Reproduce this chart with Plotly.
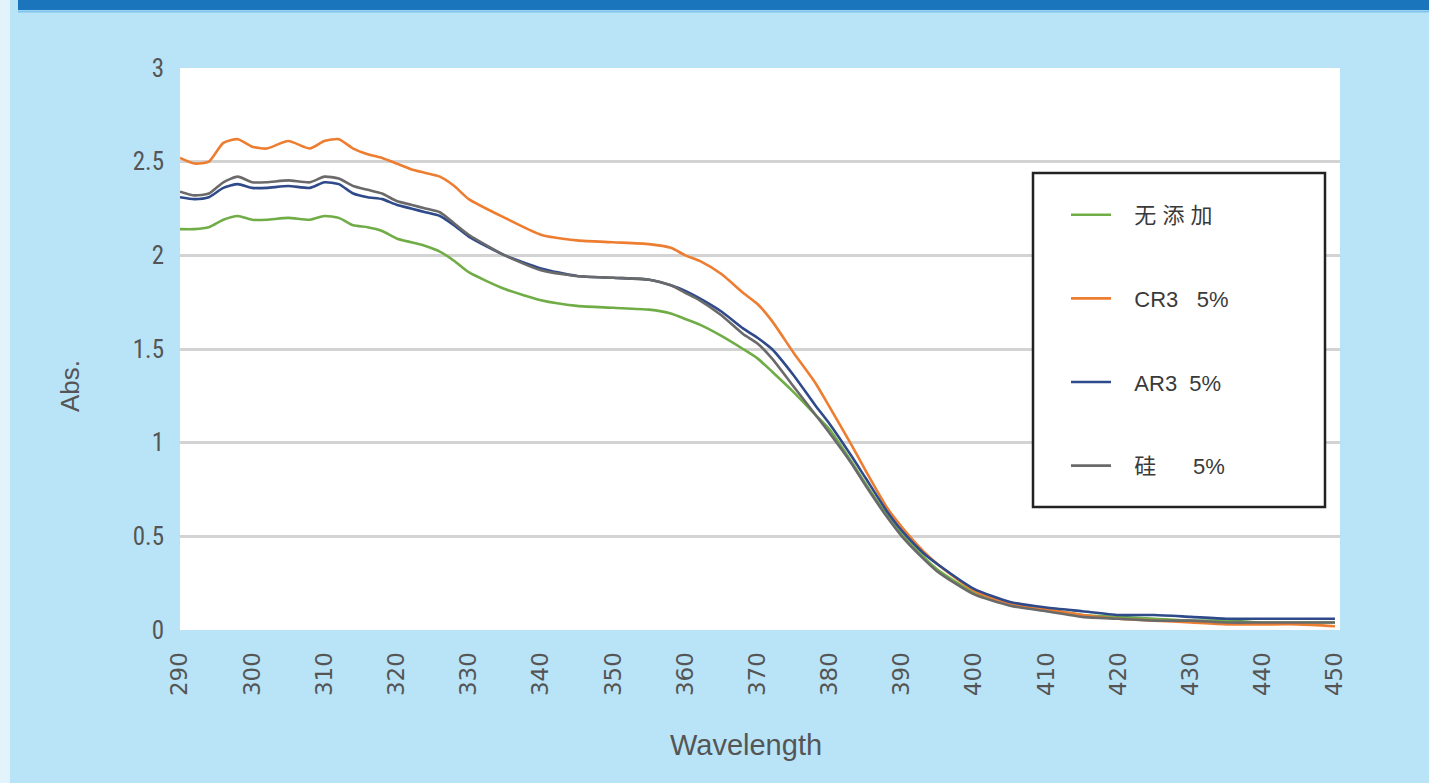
import plotly.graph_objects as go

wavelength = [290, 292, 294, 296, 298, 300, 302, 305, 308, 310, 312, 314, 316, 318, 320, 322, 324, 326, 328, 330,
              335, 340, 345, 350, 355, 358, 360, 362, 365, 368, 370, 372, 375, 378, 380, 383, 385, 388, 390, 393,
              395, 400, 405, 410, 415, 420, 425, 430, 435, 440, 445, 450]

none_add = [2.14, 2.14, 2.15, 2.19, 2.21, 2.19, 2.19, 2.20, 2.19, 2.21, 2.20, 2.16, 2.15, 2.13, 2.09, 2.07, 2.05, 2.02, 1.97, 1.91,
            1.82, 1.76, 1.73, 1.72, 1.71, 1.69, 1.66, 1.63, 1.57, 1.50, 1.45, 1.38, 1.27, 1.15, 1.07, 0.90, 0.78, 0.61, 0.51, 0.39,
            0.32, 0.20, 0.14, 0.11, 0.08, 0.07, 0.06, 0.05, 0.05, 0.04, 0.04, 0.04]

cr3 = [2.52, 2.49, 2.50, 2.60, 2.62, 2.58, 2.57, 2.61, 2.57, 2.61, 2.62, 2.57, 2.54, 2.52, 2.49, 2.46, 2.44, 2.42, 2.37, 2.30,
       2.20, 2.11, 2.08, 2.07, 2.06, 2.04, 2.00, 1.97, 1.90, 1.80, 1.74, 1.65, 1.48, 1.32, 1.19, 0.99, 0.85, 0.65, 0.55, 0.42,
       0.35, 0.21, 0.14, 0.11, 0.08, 0.06, 0.05, 0.04, 0.03, 0.03, 0.03, 0.02]

ar3 = [2.31, 2.30, 2.31, 2.36, 2.38, 2.36, 2.36, 2.37, 2.36, 2.39, 2.38, 2.33, 2.31, 2.30, 2.27, 2.25, 2.23, 2.21, 2.16, 2.10,
       2.00, 1.93, 1.89, 1.88, 1.87, 1.84, 1.81, 1.77, 1.70, 1.61, 1.56, 1.50, 1.36, 1.20, 1.10, 0.93, 0.81, 0.63, 0.53, 0.41,
       0.35, 0.22, 0.15, 0.12, 0.10, 0.08, 0.08, 0.07, 0.06, 0.06, 0.06, 0.06]

silicon = [2.34, 2.32, 2.33, 2.39, 2.42, 2.39, 2.39, 2.40, 2.39, 2.42, 2.41, 2.37, 2.35, 2.33, 2.29, 2.27, 2.25, 2.23, 2.17, 2.11,
           2.00, 1.92, 1.89, 1.88, 1.87, 1.84, 1.80, 1.76, 1.68, 1.58, 1.53, 1.45, 1.30, 1.15, 1.05, 0.89, 0.77, 0.60, 0.50, 0.38,
           0.31, 0.19, 0.13, 0.10, 0.07, 0.06, 0.05, 0.05, 0.04, 0.04, 0.04, 0.04]

series_names = ["无 添 加", "CR3   5%", "AR3  5%", "硅      5%"]
series_values = [none_add, cr3, ar3, silicon]
series_colors = ["#70ad47", "#ed7d31", "#2f4a8a", "#6a6a6a"]

x_ticks = list(range(290, 451, 10))
y_ticks = [0, 0.5, 1, 1.5, 2, 2.5, 3]
y_tick_text = ["0", "0.5", "1", "1.5", "2", "2.5", "3"]
x_title = "Wavelength"
y_title = "Abs."

fig = go.Figure()
for i, (name, vals, col) in enumerate(zip(series_names, series_values, series_colors)):
    fig.add_trace(go.Scatter(
        x=wavelength, y=vals, mode="lines", name="\u00a0\u00a0\u00a0" + name,
        line=dict(color=col, width=2.6, shape="spline", smoothing=0.6),
        legendgroup=str(i),
    ))

W, H = 1429, 783
L, R, T, B = 180, 89, 68, 153
pw, ph = W - L - R, H - T - B

def px(xp):
    return (xp - L) / pw

def py(yp):
    return (H - B - yp) / ph

font_narrow = "Liberation Sans Narrow, Roboto Condensed, Liberation Sans, Arial"

fig.update_layout(
    width=W, height=H,
    margin=dict(l=L, r=R, t=T, b=B),
    paper_bgcolor="#b9e4f8",
    plot_bgcolor="#ffffff",
    showlegend=True,
    legend=dict(
        x=px(1066), y=py(194), xanchor="left", yanchor="top",
        bgcolor="rgba(0,0,0,0)", borderwidth=0,
        font=dict(family="Liberation Sans, Noto Sans CJK SC", size=22, color="#3a3a3a"),
        tracegroupgap=52, itemwidth=40,
    ),
    xaxis=dict(
        range=[290, 450.7], tickvals=x_ticks, tickangle=-90,
        showgrid=False, zeroline=False, showline=False,
        tickfont=dict(family="DejaVu Sans", size=23, color="#555555"),
        ticks="outside", ticklen=12, tickcolor="rgba(0,0,0,0)",
    ),
    yaxis=dict(
        range=[0, 3], tickvals=y_ticks, ticktext=y_tick_text,
        showgrid=True, gridcolor="#d3d3d3", gridwidth=3, zeroline=False, showline=False,
        tickfont=dict(family=font_narrow, size=25, color="#555555"),
        ticks="outside", ticklen=10, tickcolor="rgba(0,0,0,0)",
    ),
    annotations=[
        dict(text=x_title, xref="paper", yref="paper", x=px(746), y=py(745), xanchor="center", yanchor="middle",
             showarrow=False, font=dict(family="Liberation Sans, Arial", size=29, color="#555555")),
        dict(text=y_title, xref="paper", yref="paper", x=px(70), y=py(386), xanchor="center", yanchor="middle",
             textangle=-90, showarrow=False, font=dict(family="Liberation Sans, Arial", size=26, color="#555555")),
    ],
    shapes=[
        dict(type="rect", xref="paper", yref="paper", x0=px(0), x1=px(10), y0=py(H), y1=py(0),
             fillcolor="#e2f3fc", line=dict(width=0), layer="below"),
        dict(type="rect", xref="paper", yref="paper", x0=px(18), x1=px(W), y0=py(10), y1=py(0),
             fillcolor="#1b75bc", line=dict(width=0), layer="below"),
        dict(type="line", xref="paper", yref="paper", x0=px(18), x1=px(W), y0=py(11.5), y1=py(11.5),
             line=dict(color="#7fc3ee", width=2), layer="below"),
        dict(type="rect", xref="paper", yref="paper", x0=px(1033), x1=px(1325), y0=py(507), y1=py(173),
             fillcolor="#ffffff", line=dict(color="#222222", width=2.5), layer="above"),
    ],
)

fig.write_html("out.html", config={"displayModeBar": False},
               post_script="document.body.style.margin='0';document.body.style.overflow='hidden';")
